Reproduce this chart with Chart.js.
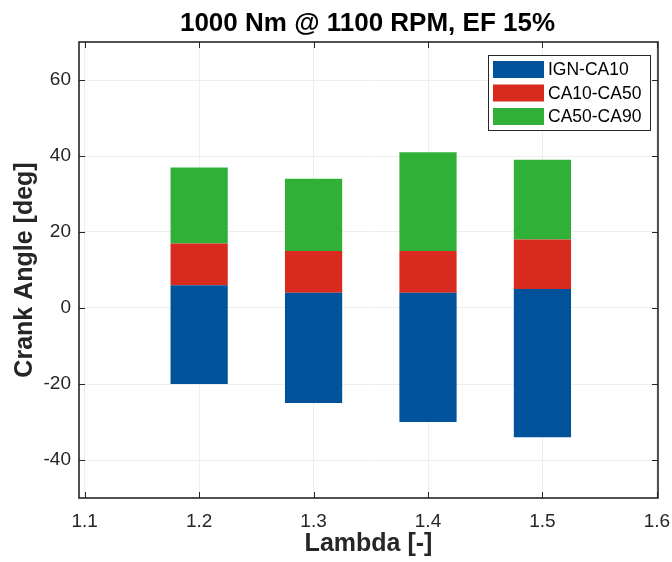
<!DOCTYPE html>
<html>
<head>
<meta charset="utf-8">
<script src="https://cdn.jsdelivr.net/npm/chart.js@4/dist/chart.umd.min.js"></script>
<style>
  html, body { margin: 0; padding: 0; background: #ffffff; }
  #wrap { width: 672px; height: 562px; }
</style>
</head>
<body>
<div id="wrap"><canvas id="c" width="672" height="562"></canvas></div>
<script>
// Combustion phasing per air-fuel ratio (crank angle, deg)
const lambda = [1.2, 1.3, 1.4, 1.5];
const ignition = [-20, -25, -30, -34];
const ca10 = [6, 4, 4, 5];
const ca50 = [17, 15, 15, 18];
const ca90 = [37, 34, 41, 39];

const seriesLabels = ['IGN-CA10', 'CA10-CA50', 'CA50-CA90'];
const seriesColors = ['#00529a', '#d92a1f', '#31b038'];

const xTicks = [1.1, 1.2, 1.3, 1.4, 1.5, 1.6];
const yTicks = [-40, -20, 0, 20, 40, 60];

const titleText = '1000 Nm @ 1100 RPM, EF 15%';
const xTitle = 'Lambda [-]';
const yTitle = 'Crank Angle [deg]';

const FONT = '"Liberation Sans", Arial, Helvetica, sans-serif';
const INK = '#262626';

// floating segments between consecutive burn points
function segments(lo, hi) {
  return lambda.map((x, i) => ({ x: x, y: [lo[i], hi[i]] }));
}

const datasets = [
  { label: seriesLabels[0], data: segments(ignition, ca10), backgroundColor: seriesColors[0] },
  { label: seriesLabels[1], data: segments(ca10, ca50), backgroundColor: seriesColors[1] },
  { label: seriesLabels[2], data: segments(ca50, ca90), backgroundColor: seriesColors[2] }
];

// axes box, inward ticks, title and legend
const framePlugin = {
  id: 'frame',
  afterDatasetsDraw(chart) {
    const ctx = chart.ctx;
    const a = chart.chartArea;
    const xs = chart.scales.x, ys = chart.scales.y;
    ctx.save();
    ctx.strokeStyle = INK;
    ctx.lineWidth = 1;
    const tl = 6;
    ctx.beginPath();
    xTicks.forEach(v => {
      const px = Math.round(xs.getPixelForValue(v)) + 0.5;
      ctx.moveTo(px, a.bottom); ctx.lineTo(px, a.bottom - tl);
      ctx.moveTo(px, a.top); ctx.lineTo(px, a.top + tl);
    });
    yTicks.forEach(v => {
      const py = Math.round(ys.getPixelForValue(v)) + 0.5;
      ctx.moveTo(a.left, py); ctx.lineTo(a.left + tl, py);
      ctx.moveTo(a.right, py); ctx.lineTo(a.right - tl, py);
    });
    ctx.stroke();
    ctx.lineWidth = 1.6;
    ctx.strokeRect(a.left, a.top, a.right - a.left, a.bottom - a.top);

    // title centred over the plot area
    ctx.fillStyle = '#000000';
    ctx.font = 'bold 26px ' + FONT;
    ctx.textAlign = 'center';
    ctx.textBaseline = 'alphabetic';
    ctx.fillText(titleText, (a.left + a.right) / 2 - 1, 31);

    // legend in the upper right corner
    const bw = 162, bh = 75;
    const bx = a.right - 8 - bw, by = a.top + 13;
    ctx.fillStyle = '#ffffff';
    ctx.fillRect(bx, by, bw, bh);
    ctx.lineWidth = 1;
    ctx.strokeStyle = INK;
    ctx.strokeRect(bx + 0.5, by + 0.5, bw, bh);
    ctx.font = '17.5px ' + FONT;
    ctx.textAlign = 'left';
    ctx.textBaseline = 'middle';
    chart.data.datasets.forEach((ds, i) => {
      const cy = by + 14.5 + i * 23.5;
      ctx.fillStyle = ds.backgroundColor;
      ctx.fillRect(bx + 5, cy - 8.5, 51, 17);
      ctx.fillStyle = '#000000';
      ctx.fillText(ds.label, bx + 60, cy + 1);
    });
    ctx.restore();
  }
};

new Chart(document.getElementById('c'), {
  type: 'bar',
  data: { datasets: datasets },
  plugins: [framePlugin],
  options: {
    responsive: false,
    animation: false,
    devicePixelRatio: 1,
    grouped: false,
    barPercentage: 0.5,
    categoryPercentage: 1.0,
    layout: { padding: { top: 42, right: 14, left: 0, bottom: 0 } },
    plugins: {
      legend: { display: false },
      title: { display: false },
      tooltip: { enabled: false }
    },
    scales: {
      x: {
        type: 'linear',
        min: 1.095,
        max: 1.601,
        offset: false,
        afterBuildTicks(scale) { scale.ticks = xTicks.map(v => ({ value: v })); },
        afterFit(scale) {
          scale.height = 64;
          scale.paddingLeft = 0; scale.paddingRight = 0;
        },
        grid: { color: '#eeeeee', lineWidth: 1, drawTicks: false, offset: false },
        border: { display: false },
        ticks: {
          color: INK,
          font: { family: FONT, size: 19 },
          padding: 12,
          maxRotation: 0,
          autoSkip: false,
          callback: v => v.toFixed(1)
        },
        title: {
          display: true,
          text: xTitle,
          color: INK,
          font: { family: FONT, size: 25, weight: 'bold' },
          padding: { top: 0, bottom: 3 }
        }
      },
      y: {
        min: -50,
        max: 70,
        afterBuildTicks(scale) { scale.ticks = yTicks.map(v => ({ value: v })); },
        afterFit(scale) {
          scale.width = 79;
          scale.paddingTop = 0; scale.paddingBottom = 0;
        },
        grid: { color: '#eeeeee', lineWidth: 1, drawTicks: false },
        border: { display: false },
        ticks: {
          color: INK,
          font: { family: FONT, size: 19 },
          padding: 8
        },
        title: {
          display: true,
          text: yTitle,
          color: INK,
          font: { family: FONT, size: 25, weight: 'bold' },
          padding: { top: 10, bottom: 0 }
        }
      }
    }
  }
});
</script>
</body>
</html>
